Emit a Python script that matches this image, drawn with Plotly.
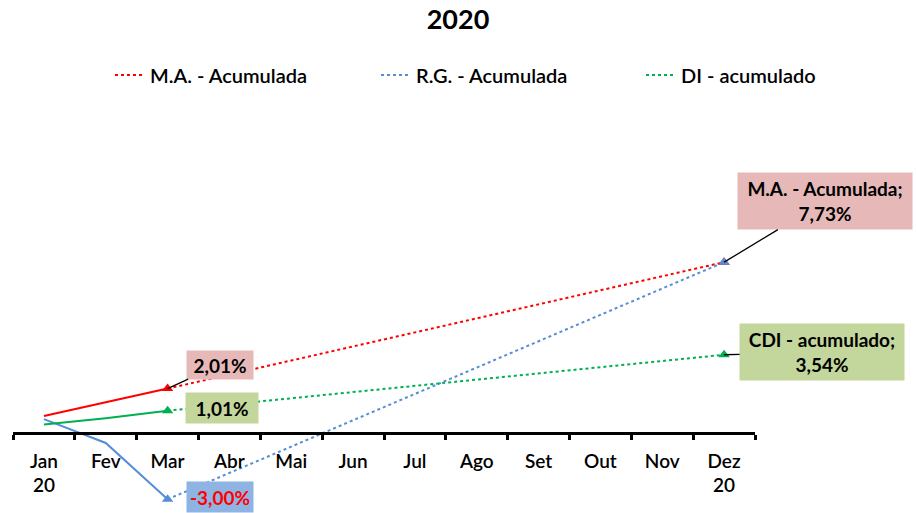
import plotly.graph_objects as go

# ---- data ----
months = ["Jan", "Fev", "Mar", "Abr", "Mai", "Jun", "Jul", "Ago", "Set", "Out", "Nov", "Dez"]
tick_labels = ["Jan<br>20", "Fev", "Mar", "Abr", "Mai", "Jun", "Jul", "Ago", "Set", "Out", "Nov", "Dez<br>20"]

real_months = ["Jan", "Fev", "Mar"]
ma_real = [0.77, 1.40, 2.01]
rg_real = [0.63, -0.45, -3.00]
di_real = [0.38, 0.67, 1.01]

proj_months = ["Mar", "Dez"]
ma_proj = [2.01, 7.73]
rg_proj = [-3.00, 7.73]
di_proj = [1.01, 3.54]

names = ["M.A. - Acumulada", "R.G. - Acumulada", "DI - acumulado"]
end_label_names = ["M.A. - Acumulada", "R.G. - Acumulada", "CDI - acumulado"]
colors = ["#FF0000", "#558ED5", "#00B050"]
box_colors = ["#E6B9B8", "#8EB4E3", "#C3D69B"]

FONT = "Lato"
W, H = 916, 513

fig = go.Figure()

series = [(ma_real, ma_proj), (rg_real, rg_proj), (di_real, di_proj)]
legend_ids = ["legend", "legend2", "legend3"]

# dotted projection traces (shown in legends)
for (real, proj), name, col, lg in zip(series, names, colors, legend_ids):
    fig.add_trace(go.Scatter(x=proj_months, y=proj, mode="lines", name=name, legend=lg,
                             line=dict(color=col, width=2, dash="dot"),
                             hoverinfo="skip"))
# solid realised part
for (real, proj), name, col in zip(series, names, colors):
    fig.add_trace(go.Scatter(x=real_months, y=real, mode="lines", showlegend=False,
                             line=dict(color=col, width=2), hoverinfo="skip"))
# markers
for (real, proj), name, col in zip(series, names, colors):
    fig.add_trace(go.Scatter(x=proj_months, y=proj, mode="markers", showlegend=False,
                             marker=dict(symbol="triangle-up", size=10, color=col),
                             cliponaxis=False, hoverinfo="skip"))

# ---- data labels ----
def fmt(v):
    return f"{v:.2f}".replace(".", ",") + "%"

# March labels
mar_offsets = [(52, -24), (52, -2), (54, -3)]
mar_sizes = [(66, 28), (66, 30), (72, 30)]
mar_arrow = ["black", "rgba(0,0,0,0)", "rgba(0,0,0,0)"]
mar_text_col = ["black", "#FF0000", "black"]
for i, ((real, proj), bc) in enumerate(zip(series, box_colors)):
    ax, ay = mar_offsets[i]
    w, h = mar_sizes[i]
    fig.add_annotation(x="Mar", y=proj[0], xref="x", yref="y", text=f"<b>{fmt(proj[0])}</b>",
                       showarrow=True, arrowhead=0, arrowwidth=1.3, arrowcolor=mar_arrow[i],
                       ax=ax, ay=ay, bgcolor=bc, borderpad=0, width=w, height=h,
                       xanchor="center", yanchor="middle",
                       font=dict(family=FONT, size=19, color=mar_text_col[i]))

# December labels (M.A. and CDI): box centre offset (px in x, value units in y)
dez_offsets = {0: (101, 2.76, 174, 56), 2: (98, 0.14, 164, 56)}
for i, (ax, dy, w, h) in dez_offsets.items():
    v = series[i][1][1]
    fig.add_annotation(x="Dez", y=v, xref="x", yref="y",
                       text=f"<b>{end_label_names[i]};<br>{fmt(v)}</b>",
                       showarrow=True, arrowhead=0, arrowwidth=1.3, arrowcolor="black",
                       ax=ax, ay=v + dy, ayref="y", bgcolor=box_colors[i], borderpad=0,
                       width=w, height=h, xanchor="center", yanchor="middle",
                       font=dict(family=FONT, size=19, color="black"))

ymin, ymax = -3.484, 14.616

legend_text_x = [152, 418, 683]
legend_common = dict(orientation="h", xref="container", yref="container", xanchor="left",
                     yanchor="middle", y=1 - 75 / H, bgcolor="rgba(0,0,0,0)",
                     font=dict(family=FONT, size=20, color="#000", weight=600))

layout_legends = {}
for lg, tx in zip(legend_ids, legend_text_x):
    layout_legends[lg] = dict(legend_common, x=(tx - 42) / W)

fig.update_layout(
    width=W, height=H,
    margin=dict(l=13, r=161, t=110, b=3),
    paper_bgcolor="white", plot_bgcolor="white",
    title=dict(text="<b>2020</b>", x=0.5, xanchor="center", y=1 - 20 / H, yanchor="middle",
               font=dict(family=FONT, size=27, color="#000")),
    showlegend=True,
    xaxis=dict(type="category", categoryorder="array", categoryarray=months,
               range=[-0.5, 11.5], tickmode="array", tickvals=months, ticktext=tick_labels,
               anchor="free", position=(0 - ymin) / (ymax - ymin),
               showline=True, linecolor="black", linewidth=2.5,
               ticks="outside", tickson="boundaries", ticklen=5, tickwidth=2.5, tickcolor="black",
               ticklabelstandoff=10,
               showgrid=False, zeroline=False,
               tickfont=dict(family=FONT, size=19, color="#000", weight=600), automargin=False),
    yaxis=dict(range=[ymin, ymax], visible=False, showgrid=False, zeroline=False),
    **layout_legends,
)

fig.write_html("out.html", config={"displayModeBar": False},
               post_script="document.body.style.margin='0px';")
